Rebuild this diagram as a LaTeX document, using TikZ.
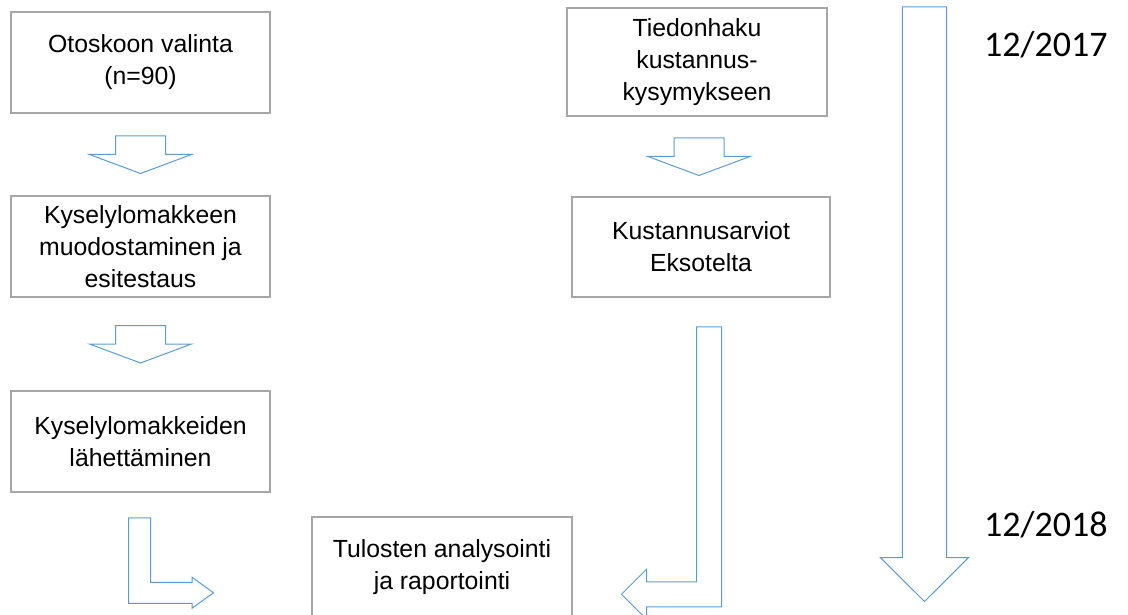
\documentclass[tikz,border=0pt]{standalone}
\usepackage{fontspec}
\setmainfont{Liberation Sans}
\newfontfamily\datefont{Carlito}
\usepackage{xcolor}
\usetikzlibrary{positioning, calc}

\definecolor{boxgray}{HTML}{A6A6A6}
\definecolor{arrowblue}{HTML}{5B9BD5}

\tikzset{
    stepbox/.style={draw=boxgray, line width=1.5pt, align=center, inner sep=0pt,
        minimum width=259pt, minimum height=101pt,
        font=\fontsize{24.8}{32}\selectfont},
    blockarrow/.style={draw=arrowblue, line width=1pt, line join=miter},
    datelabel/.style={anchor=base west, inner sep=0pt, font=\datefont\fontsize{36}{40}\selectfont},
    blockdown/.pic={
        \draw[blockarrow] (-25,-18.5) -- (25,-18.5) -- (25,0) -- (51,0)
            -- (0,19) -- (-51,0) -- (-25,0) -- cycle;
    }
}

\begin{document}
\begin{tikzpicture}[x=1pt, y=-1pt]
            \useasboundingbox (0,0) rectangle (1128,615);

            % Left column
            \node[stepbox] (otos) at (140.5,62.5) {Otoskoon valinta\\(n=90)};
            \node[stepbox] (lomake) at (140.5,246.5) {Kyselylomakkeen\\muodostaminen ja\\esitestaus};
            \node[stepbox] (lahetys) at (140.5,441.5) {Kyselylomakkeiden\\lähettäminen};

            % Middle column
            \node[stepbox, minimum width=260pt, minimum height=108pt] (tiedonhaku) at (697,62) {Tiedonhaku\\kustannus-\\kysymykseen};
            \node[stepbox, minimum width=258pt, minimum height=100pt] (arviot) at (701,247) {Kustannusarviot\\Eksotelta};

            % Result box (bottom edge runs off the page)
            \node[stepbox, minimum width=260pt, minimum height=100pt] (tulokset) at (442,567) {Tulosten analysointi\\ja raportointi};

            % Down arrows between boxes
            \pic at ($(otos.south)!0.5!(lomake.north)$) {blockdown};
            \pic at ($(lomake.south)!0.5!(lahetys.north)$) {blockdown};
            \pic at ($(tiedonhaku.south)!0.5!(arviot.north)$) {blockdown};

            % Bent arrow: lahetys -> tulokset
            \draw[blockarrow, shift={(lahetys.south)}] (-12,25) -- (10,25) -- (10,89.5)
                -- (51.5,89.5) -- (51.5,84.5) -- (73,100) -- (51.5,115.5)
                -- (51.5,110.5) -- (-12,110.5) -- cycle;

            % Bent arrow: arviot -> tulokset
            \draw[blockarrow, shift={(arviot.south)}] (-4.5,29) -- (20.5,29) -- (20.5,309)
                -- (-54.5,309) -- (-54.5,321.5) -- (-79.5,296.5) -- (-54.5,271.5)
                -- (-54.5,284) -- (-4.5,284) -- cycle;

            % Timeline
            \draw[blockarrow] (902.3,7) -- (946.7,7) -- (946.7,557.5) -- (968.7,557.5)
                -- (924.5,601.5) -- (880.3,557.5) -- (902.3,557.5) -- cycle;
            \node[datelabel] (alku) at (984,57) {12/2017};
            \node[datelabel] (loppu) at (984,536.5) {12/2018};

\end{tikzpicture}
\end{document}
